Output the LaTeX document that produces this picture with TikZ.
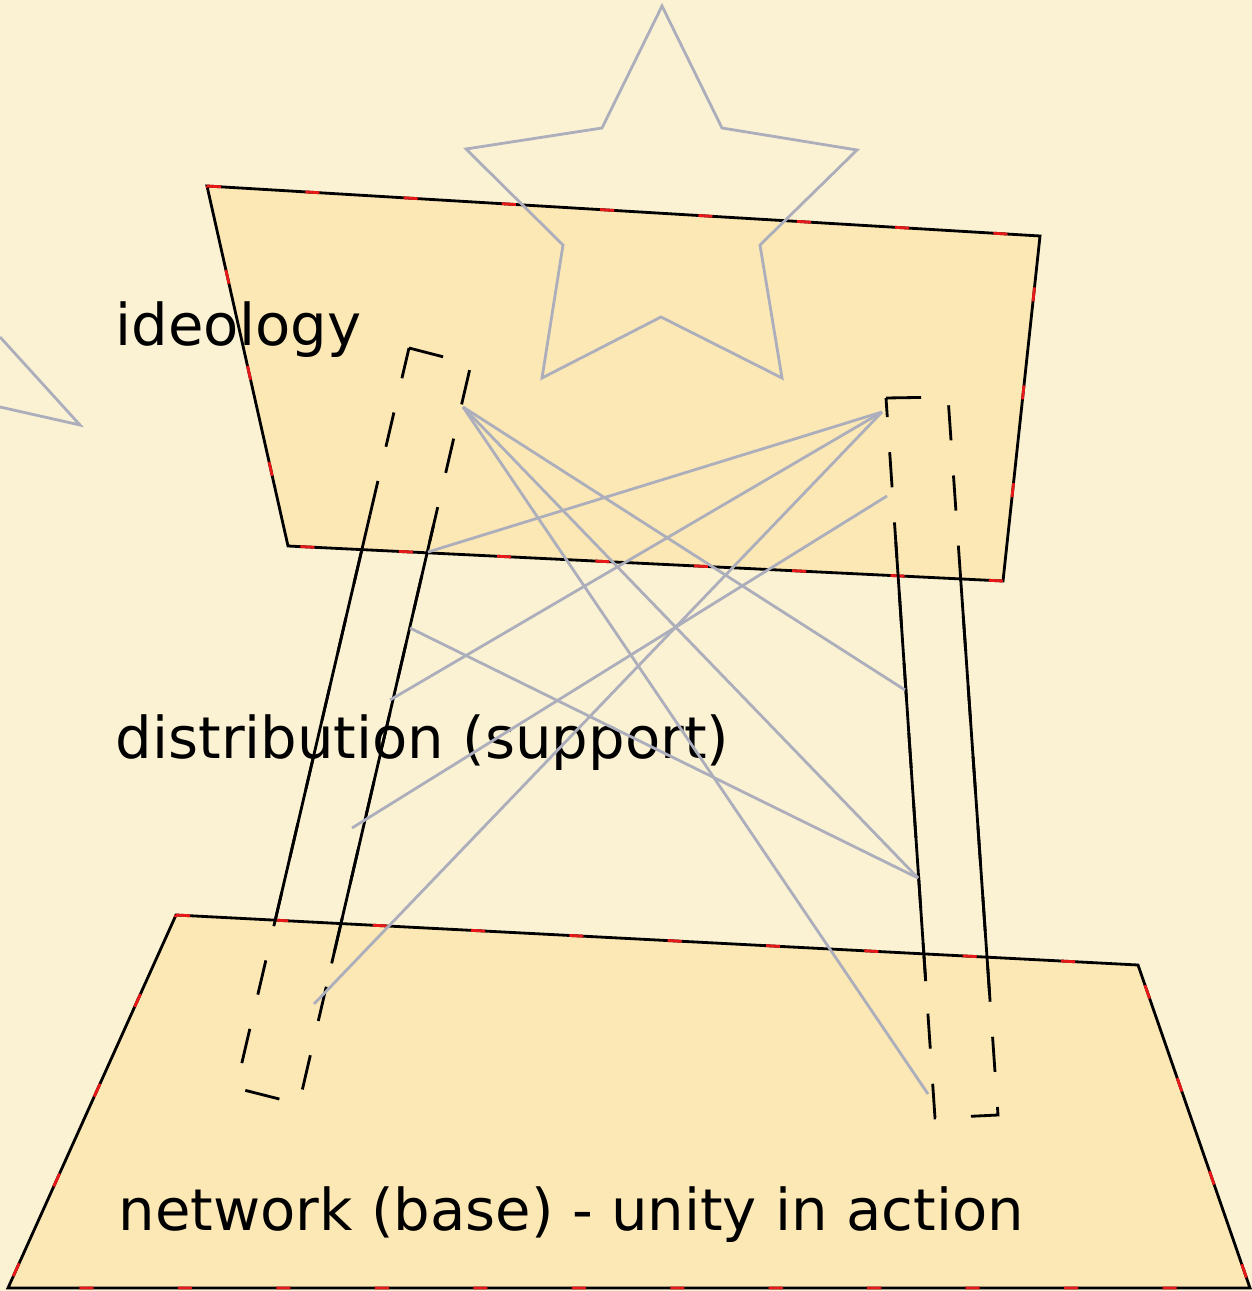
\documentclass[tikz,border=0pt]{standalone}
\usepackage{fontspec}
\setsansfont{DejaVu Sans}
\usetikzlibrary{calc}

\definecolor{paper}{RGB}{251,242,212}
\definecolor{layerfill}{RGB}{252,232,181}
\definecolor{linkgray}{RGB}{172,174,188}
\definecolor{edgered}{RGB}{232,24,24}

\tikzset{
  layer/.style={fill=layerfill, draw=black, line width=0.8pt},
  redmarks/.style={draw=edgered, line width=0.8pt, dash pattern=on 4pt off 24pt},
  pillar/.style={draw=black, line width=0.8pt, dash pattern=on 10pt off 10pt},
  pillarside/.style={draw=black, line width=0.8pt},
  link/.style={draw=linkgray, line width=0.8pt},
  tag/.style={font=\sffamily\fontsize{16.4}{19}\selectfont, anchor=base west, inner sep=0pt},
}

\begin{document}
\begin{tikzpicture}[x=0.01cm, y=-0.01cm]
   \fill[paper] (0,0) rectangle (1252,1291);
   \useasboundingbox (0,0) rectangle (1252,1291);

   % layers
   \draw[layer] (207,186) -- (1040,236) -- (1003,581) -- (288,546) -- cycle;
   \draw[redmarks] (207,186) -- (1040,236) -- (1003,581) -- (288,546) -- cycle;
   \draw[layer] (176,915) -- (1138,965) -- (1250,1288) -- (8,1288) -- cycle;
   \draw[redmarks] (176,915) -- (1138,965) -- (1250,1288) -- (8,1288) -- cycle;

   % stars
   \draw[link] (662,6) -- (722,128) -- (857,150) -- (760,245) -- (782,378)
      -- (661,317) -- (542,378) -- (563,245) -- (466,149) -- (602,128) -- cycle;
   \draw[link] (0,337) -- (80,425) -- (0,407);

   \node[tag] (ideo) at (115,345) {ideology};
   \node[tag] (dist) at (115,758) {distribution (support)};
   \node[tag] (net) at (118,1230) {network (base) - unity in action};

   % pillars
   \coordinate (lp1) at (409,348);
   \coordinate (lp2) at (471,364);
   \coordinate (lp3) at (299,1104);
   \coordinate (lp4) at (236,1088);
   \coordinate (rp1) at (886,398);
   \coordinate (rp2) at (948,397);
   \coordinate (rp3) at (998,1115);
   \coordinate (rp4) at (935,1118);

   \draw[pillar] (lp1) -- (lp2) -- (lp3) -- (lp4) -- cycle;
   \draw[pillar] (rp1) -- (rp2) -- (rp3) -- (rp4) -- cycle;
   \draw[pillarside] ($(lp1)!0.226!(lp4)$) -- ($(lp1)!0.77!(lp4)$);
   \draw[pillarside] ($(lp2)!0.219!(lp3)$) -- ($(lp2)!0.81!(lp3)$);
   \draw[pillarside] ($(rp1)!0.2!(rp4)$) -- ($(rp1)!0.81!(rp4)$);
   \draw[pillarside] ($(rp2)!0.248!(rp3)$) -- ($(rp2)!0.829!(rp3)$);

   % links
   \coordinate (a) at (463,407);
   \coordinate (b) at (882,412);
   \coordinate (c) at (887,496);
   \coordinate (l0) at (410,628);
   \coordinate (l1) at (428,552);
   \coordinate (l2) at (390,700);
   \coordinate (l3) at (352,828);
   \coordinate (l4) at (314,1004);
   \coordinate (r1) at (905,690);
   \coordinate (r2) at (918,878);
   \coordinate (r3) at (928,1094);

   \draw[link] (a) -- (r1);
   \draw[link] (a) -- (r2);
   \draw[link] (a) -- (r3);
   \draw[link] (b) -- (l1);
   \draw[link] (b) -- (l2);
   \draw[link] (b) -- (l4);
   \draw[link] (c) -- (l3);
   \draw[link] (l0) -- (r2);
\end{tikzpicture}
\end{document}
